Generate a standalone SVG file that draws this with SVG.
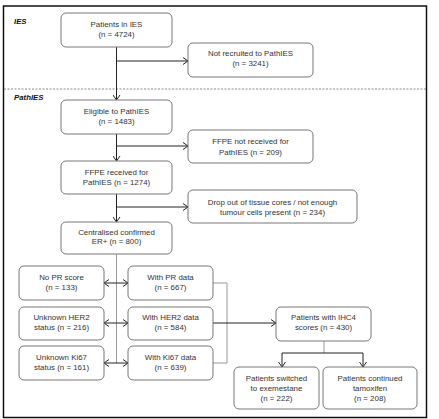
<svg xmlns="http://www.w3.org/2000/svg" width="439" height="419" viewBox="0 0 439 419">
<defs>
<marker id="ah" viewBox="0 0 6 8" refX="5.5" refY="4" markerWidth="6" markerHeight="8" markerUnits="userSpaceOnUse" orient="auto-start-reverse">
<path d="M0.5,0.5 L5.5,4 L0.5,7.5" fill="none" stroke="#222" stroke-width="1"/>
</marker>
</defs>
<style>
.box{fill:#fff;stroke:#777;stroke-width:1}
.t{font-family:"Liberation Sans",Arial,sans-serif;font-size:7.9px;fill:#333;text-anchor:middle}
.lab{font-family:"Liberation Sans",Arial,sans-serif;font-size:7.8px;font-weight:bold;font-style:italic;fill:#111}
.c{fill:none;stroke:#222;stroke-width:1}
.g{fill:none;stroke:#999;stroke-width:1}
</style>
<rect x="0" y="0" width="439" height="419" fill="#fff"/>
<rect x="3.5" y="6" width="423" height="411.5" fill="none" stroke="#111" stroke-width="1.5"/>
<line x1="4" y1="89" x2="426" y2="89" stroke="#888" stroke-width="1" stroke-dasharray="2,1.5"/>
<text class="lab" x="14" y="24">IES</text>
<text class="lab" x="14" y="100">PathIES</text>

<g id="connectors">
<path class="c" d="M116.5 47 V100" marker-end="url(#ah)"/>
<path class="c" d="M116.5 61 H188" marker-end="url(#ah)"/>
<path class="c" d="M116.5 134 V161" marker-end="url(#ah)"/>
<path class="c" d="M116.5 146 H188" marker-end="url(#ah)"/>
<path class="c" d="M116.5 194 V222" marker-end="url(#ah)"/>
<path class="c" d="M116.5 207 H188" marker-end="url(#ah)"/>
<path class="g" d="M116.5 254 V363"/>
<path class="c" d="M104 283 H128" marker-start="url(#ah)" marker-end="url(#ah)"/>
<path class="c" d="M104 323 H128" marker-start="url(#ah)" marker-end="url(#ah)"/>
<path class="c" d="M104 363 H128" marker-start="url(#ah)" marker-end="url(#ah)"/>
<path class="g" d="M213 283 H227 V363 H213"/>
<path class="c" d="M213 323 H276" marker-end="url(#ah)"/>
<path class="g" d="M324 341 V353"/>
<path class="c" d="M282 353 H363"/>
<path class="c" d="M282 353 V367" marker-end="url(#ah)"/>
<path class="c" d="M363 353 V367" marker-end="url(#ah)"/>
</g>

<g id="n1"><rect class="box" x="61" y="13" width="111" height="34" rx="5"/><text class="t" x="116.5" y="26.8">Patients in IES</text><text class="t" x="116.5" y="36.8">(n = 4724)</text></g>
<g id="n2"><rect class="box" x="188" y="43" width="125" height="34" rx="5"/><text class="t" x="250.5" y="56.3">Not recruited to PathIES</text><text class="t" x="250.5" y="65.8">(n = 3241)</text></g>
<g id="n3"><rect class="box" x="61" y="100" width="111" height="34" rx="5"/><text class="t" x="116.5" y="113.8">Eligible to PathIES</text><text class="t" x="116.5" y="123.8">(n = 1483)</text></g>
<g id="n4"><rect class="box" x="188" y="130" width="125" height="33" rx="5"/><text class="t" x="250.5" y="144.3">FFPE not received for</text><text class="t" x="250.5" y="154.8">PathIES (n = 209)</text></g>
<g id="n5"><rect class="box" x="61" y="161" width="111" height="33" rx="5"/><text class="t" x="116.5" y="174.5">FFPE received for</text><text class="t" x="116.5" y="184.5">PathIES (n = 1274)</text></g>
<g id="n6"><rect class="box" x="188" y="190" width="169" height="33" rx="5"/><text class="t" x="272.5" y="204.5">Drop out of tissue cores / not enough</text><text class="t" x="272.5" y="214.5">tumour cells present (n = 234)</text></g>
<g id="n7"><rect class="box" x="61" y="222" width="111" height="32" rx="5"/><text class="t" x="116.5" y="234.5">Centralised confirmed</text><text class="t" x="116.5" y="244">ER+ (n = 800)</text></g>
<g id="n8"><rect class="box" x="19" y="266" width="85" height="34" rx="5"/><text class="t" x="61.5" y="279.5">No PR score</text><text class="t" x="61.5" y="289.5">(n = 133)</text></g>
<g id="n9"><rect class="box" x="128" y="266" width="85" height="34" rx="5"/><text class="t" x="170.5" y="279.5">With PR data</text><text class="t" x="170.5" y="289.5">(n = 667)</text></g>
<g id="n10"><rect class="box" x="19" y="307" width="85" height="33" rx="5"/><text class="t" x="61.5" y="319.5">Unknown HER2</text><text class="t" x="61.5" y="329.5">status (n = 216)</text></g>
<g id="n11"><rect class="box" x="128" y="307" width="85" height="33" rx="5"/><text class="t" x="170.5" y="319.5">With HER2 data</text><text class="t" x="170.5" y="329.5">(n = 584)</text></g>
<g id="n12"><rect class="box" x="19" y="346" width="85" height="34" rx="5"/><text class="t" x="61.5" y="359.5">Unknown Ki67</text><text class="t" x="61.5" y="369.5">status (n = 161)</text></g>
<g id="n13"><rect class="box" x="128" y="346" width="85" height="34" rx="5"/><text class="t" x="170.5" y="359.5">With Ki67 data</text><text class="t" x="170.5" y="369.5">(n = 639)</text></g>
<g id="n14"><rect class="box" x="276" y="307" width="95" height="34" rx="5"/><text class="t" x="323.5" y="320.2">Patients with IHC4</text><text class="t" x="323.5" y="329.7">scores (n = 430)</text></g>
<g id="n15"><rect class="box" x="234" y="367" width="85" height="42" rx="5"/><text class="t" x="276.5" y="381.2">Patients switched</text><text class="t" x="276.5" y="391">to exemestane</text><text class="t" x="276.5" y="400.7">(n = 222)</text></g>
<g id="n16"><rect class="box" x="323" y="367" width="94" height="42" rx="5"/><text class="t" x="370" y="381.2">Patients continued</text><text class="t" x="370" y="391">tamoxifen</text><text class="t" x="370" y="400.7">(n = 208)</text></g>
</svg>
